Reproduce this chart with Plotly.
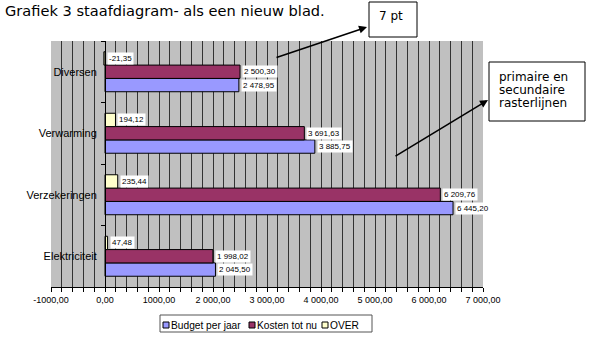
import plotly.graph_objects as go

categories = ["Elektriciteit", "Verzekeringen", "Verwarming", "Diversen"]
budget = [2045.50, 6445.20, 3885.75, 2478.95]
kosten = [1998.02, 6209.76, 3691.63, 2500.30]
over = [47.48, 235.44, 194.12, -21.35]
series_names = ["Budget per jaar", "Kosten tot nu", "OVER"]
series_colors = ["#9999FF", "#993366", "#FFFFCC"]
x_tickvals = [-1000, 0, 1000, 2000, 3000, 4000, 5000, 6000, 7000]
x_ticktext = ["-1000,00", "0,00", "1000,00", "2 000,00", "3 000,00",
              "4 000,00", "5 000,00", "6 000,00", "7 000,00"]

W, H = 602, 344
L, R, T, B = 51, 483, 41, 287
BARGAP = 0.35


def fmt(v):
    return f"{v:,.2f}".replace(",", " ").replace(".", ",")


def px(xp):
    return (xp - L) / (R - L)


def py(yp):
    return (B - yp) / (B - T)


fig = go.Figure()
all_vals = [budget, kosten, over]
for name, vals, col in zip(series_names, all_vals, series_colors):
    fig.add_trace(go.Bar(
        y=categories, x=vals, name=name, orientation="h",
        marker=dict(color=col, line=dict(color="#000000", width=1)),
        showlegend=False,
    ))

band = (B - T) / len(categories)
bar_w = band * (1 - BARGAP) / 3
annotations = []
for si, vals in enumerate(all_vals):
    shift = (si - 1) * bar_w
    for cat, v in zip(categories, vals):
        annotations.append(dict(
            x=max(v, 0), y=cat, xref="x", yref="y", text=fmt(v),
            showarrow=False, xanchor="left", yanchor="middle",
            xshift=2, yshift=shift, bgcolor="#FFFFFF", borderpad=1,
            font=dict(family="Liberation Sans, Arial", size=8, color="#000"),
        ))

# title
annotations.append(dict(
    x=px(3), y=py(10), xref="paper", yref="paper", xanchor="left", yanchor="middle",
    text="Grafiek 3 staafdiagram- als een nieuw blad.", showarrow=False,
    font=dict(family="DejaVu Sans", size=14.6, color="#000"),
))
# callout texts
annotations.append(dict(
    x=px(391), y=py(16), xref="paper", yref="paper", xanchor="center", yanchor="middle",
    text="7 pt", showarrow=False, font=dict(family="DejaVu Sans", size=12, color="#000"),
))
for i, line in enumerate(["primaire en", "secundaire", "rasterlijnen"]):
    annotations.append(dict(
        x=px(497), y=py(77 + 13 * i), xref="paper", yref="paper", xanchor="left",
        yanchor="middle", text=line, showarrow=False,
        font=dict(family="DejaVu Sans", size=12, color="#000"),
    ))
# arrows
for head, tail in [((367, 27), (275, 58)), ((488, 100), (394, 157))]:
    annotations.append(dict(
        x=px(head[0]), y=py(head[1]), xref="paper", yref="paper", text="",
        showarrow=True, ax=tail[0] - head[0], ay=tail[1] - head[1],
        arrowhead=2, arrowsize=1, arrowwidth=1.6, arrowcolor="#000",
        standoff=0, startstandoff=0,
    ))

shapes = [
    dict(type="rect", xref="paper", yref="paper", x0=px(369), x1=px(417),
         y0=py(37), y1=py(2), line=dict(color="#000", width=1), fillcolor="#FFF"),
    dict(type="rect", xref="paper", yref="paper", x0=px(489), x1=px(585),
         y0=py(121), y1=py(62), line=dict(color="#000", width=1), fillcolor="#FFF"),
    dict(type="rect", xref="paper", yref="paper", x0=px(160), x1=px(372),
         y0=py(332), y1=py(315), line=dict(color="#555", width=1), fillcolor="#FFF"),
]
# custom legend
leg_sq = [163, 249, 322]
for name, col, sx in zip(series_names, series_colors, leg_sq):
    shapes.append(dict(type="rect", xref="paper", yref="paper", x0=px(sx), x1=px(sx + 6),
                       y0=py(328), y1=py(322), line=dict(color="#000", width=1), fillcolor=col))
    annotations.append(dict(
        x=px(sx + 8), y=py(325), xref="paper", yref="paper", xanchor="left",
        yanchor="middle", text=name, showarrow=False, xshift=-2,
        font=dict(family="Liberation Sans, Arial", size=10.2, color="#000"),
    ))

fig.update_layout(
    width=W, height=H,
    margin=dict(l=L, r=W - R, t=T, b=H - B, pad=0),
    paper_bgcolor="#FFFFFF", plot_bgcolor="#C0C0C0",
    barmode="group", bargap=BARGAP, bargroupgap=0,
    showlegend=False,
    annotations=annotations, shapes=shapes,
    xaxis=dict(
        range=[-1000, 7000], tickvals=x_tickvals, ticktext=x_ticktext,
        showgrid=True, gridcolor="#333333", gridwidth=1,
        minor=dict(dtick=200, tick0=0, showgrid=True, gridcolor="#333333", gridwidth=1,
                   ticks="outside", ticklen=4, tickcolor="#000"),
        ticks="outside", ticklen=4, tickcolor="#000",
        showline=True, linecolor="#000", linewidth=1,
        zeroline=True, zerolinecolor="#000", zerolinewidth=1,
        tickfont=dict(family="Liberation Sans, Arial", size=9, color="#000"),
    ),
    yaxis=dict(
        categoryorder="array", categoryarray=categories,
        anchor="free", position=px(L + (R - L) / 8),
        showgrid=False, showline=True, linecolor="#000", linewidth=1,
        ticks="outside", ticklen=4, tickcolor="#000", tickson="boundaries",
        ticklabelstandoff=6,
        tickfont=dict(family="Liberation Sans, Arial", size=11, color="#000"),
    ),
)

fig.write_html("out.html")
